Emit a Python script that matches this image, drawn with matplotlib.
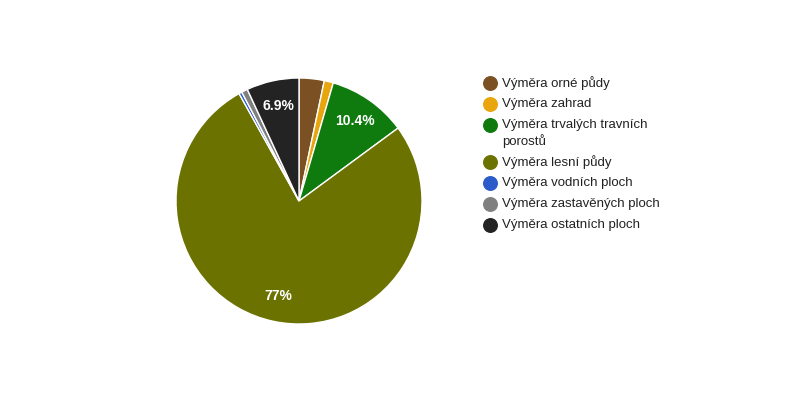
import matplotlib
matplotlib.use("Agg")
import matplotlib.pyplot as plt

plt.rcParams['font.family'] = ['Liberation Sans', 'DejaVu Sans']

# data (percent of total area)
labels = ["Výměra orné půdy", "Výměra zahrad", "Výměra trvalých travních\nporostů",
          "Výměra lesní půdy", "Výměra vodních ploch", "Výměra zastavěných ploch",
          "Výměra ostatních ploch"]
shares = [3.3, 1.2, 10.4, 77.0, 0.4, 0.8, 6.9]
colors = ["#7b5124", "#e8a50c", "#0f7a0e", "#6b7200", "#2a5bc8", "#808080", "#232323"]


def pct_label(p):
    # google-style: only label slices that are big enough
    if p < 5:
        return ""
    if p >= 20:
        return "%.0f%%" % p
    return "%.1f%%" % p


fig = plt.figure(figsize=(8, 4), dpi=100)
ax = fig.add_axes([(299 - 123) / 800, (400 - 201 - 123) / 400, 246 / 800, 246 / 400])
wedges, texts, autotexts = ax.pie(
    shares, colors=colors, startangle=90, counterclock=False,
    autopct=pct_label, pctdistance=0.79,
    wedgeprops=dict(edgecolor="white", linewidth=1),
    textprops=dict(color="white", fontsize=10, fontweight="bold"))
ax.set_xlim(-1, 1)
ax.set_ylim(-1, 1)
ax.set_aspect("equal")
ax.axis("off")

# legend drawn in pixel coordinates
lax = fig.add_axes([0, 0, 1, 1])
lax.set_xlim(0, 800)
lax.set_ylim(400, 0)
lax.axis("off")
y = 83
for lab, col in zip(labels, colors):
    lax.scatter([490], [y], s=95, color=col, zorder=3)
    lines = lab.split("\n")
    for i, line in enumerate(lines):
        lax.text(502, y + 16 * i, line, fontsize=9.5, color="#222222", va="center")
    y += 21 + 16 * (len(lines) - 1)

fig.savefig("out.png", dpi=100)
